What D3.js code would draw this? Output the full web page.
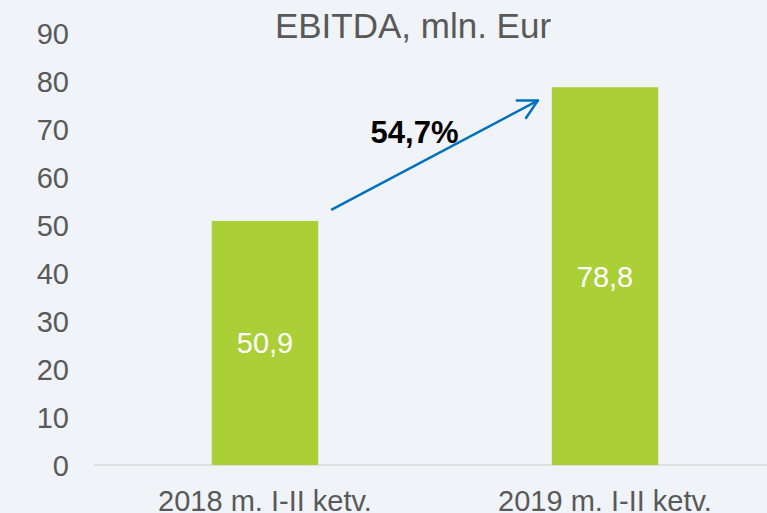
<!DOCTYPE html>
<html>
<head>
<meta charset="utf-8">
<script src="https://cdn.jsdelivr.net/npm/d3@7/dist/d3.min.js"></script>
<style>
  html, body { margin: 0; padding: 0; background: #f0f4f8; }
  svg { display: block; font-family: "Liberation Sans", Arial, sans-serif; }
</style>
</head>
<body>
<div id="chart"></div>
<script>
// data
const categories = ["2018 m. I-II ketv.", "2019 m. I-II ketv."];
const values = [50.9, 78.8];
const valueLabels = ["50,9", "78,8"];
const yTicks = [0, 10, 20, 30, 40, 50, 60, 70, 80, 90];
const growthLabel = "54,7%";
const title = "EBITDA, mln. Eur";

const width = 767, height = 513;
const barColor = "#abcf37";
const textColor = "#595959";

const svg = d3.select("#chart").append("svg")
    .attr("width", width)
    .attr("height", height);

svg.append("rect").attr("width", width).attr("height", height).attr("fill", "#f0f4f8");

// scales
const y = d3.scaleLinear().domain([0, 90]).range([465, 33.5]);
const x = d3.scaleBand().domain(categories).range([95, 775]).padding(0);
const barW = x.bandwidth() * 0.313;

// y axis
const yAxis = svg.append("g")
    .attr("transform", "translate(94,0)")
    .call(d3.axisLeft(y).tickValues(yTicks).tickSize(0).tickPadding(25));
yAxis.select(".domain").remove();
yAxis.selectAll("text")
    .attr("fill", textColor)
    .style("font-size", "29px")
    .style("font-family", "'Liberation Sans', Arial, sans-serif")
    .attr("dy", "0.35em");

// baseline
svg.append("line")
    .attr("x1", 94).attr("x2", width)
    .attr("y1", y(0)).attr("y2", y(0))
    .attr("stroke", "#d9d9d9").attr("stroke-width", 1.5);

// bars
svg.selectAll(".bar")
    .data(values)
    .enter().append("rect")
    .attr("class", "bar")
    .attr("x", (d, i) => x(categories[i]) + x.bandwidth() / 2 - barW / 2)
    .attr("width", barW)
    .attr("y", d => y(d))
    .attr("height", d => y(0) - y(d))
    .attr("fill", barColor);

// value labels
svg.selectAll(".val")
    .data(values)
    .enter().append("text")
    .attr("class", "val")
    .attr("x", (d, i) => x(categories[i]) + x.bandwidth() / 2)
    .attr("y", d => (y(d) + y(0)) / 2)
    .attr("dy", "0.36em")
    .attr("text-anchor", "middle")
    .attr("fill", "#ffffff")
    .style("font-size", "29px")
    .text((d, i) => valueLabels[i]);

// x axis labels
const xAxis = svg.append("g")
    .attr("transform", `translate(0,${y(0)})`)
    .call(d3.axisBottom(x).tickSize(0).tickPadding(0));
xAxis.select(".domain").remove();
xAxis.selectAll("text")
    .attr("fill", textColor)
    .attr("y", 46)
    .attr("dy", 0)
    .style("font-size", "29px")
    .style("font-family", "'Liberation Sans', Arial, sans-serif");

// title
svg.append("text")
    .attr("x", 413)
    .attr("y", 38)
    .attr("text-anchor", "middle")
    .attr("fill", textColor)
    .style("font-size", "35px")
    .text(title);

// growth arrow
const x0 = x(categories[0]) + x.bandwidth() / 2 + barW / 2 + 13;
const x1 = x(categories[1]) + x.bandwidth() / 2 - barW / 2 - 14;
const y0 = y(53.2), y1 = y(76);
svg.append("line")
    .attr("x1", x0).attr("y1", y0)
    .attr("x2", x1).attr("y2", y1)
    .attr("stroke", "#0070c0").attr("stroke-width", 2.5);
const ang = Math.atan2(y0 - y1, x0 - x1);
const armLen = 21, spread = 28 * Math.PI / 180;
[ang - spread, ang + spread].forEach(a => {
    svg.append("line")
        .attr("x1", x1).attr("y1", y1)
        .attr("x2", x1 + armLen * Math.cos(a))
        .attr("y2", y1 + armLen * Math.sin(a))
        .attr("stroke", "#0070c0").attr("stroke-width", 2.5)
        .attr("stroke-linecap", "round");
});

svg.append("text")
    .attr("x", (x0 + x1) / 2 - 20)
    .attr("y", y(67.2))
    .attr("text-anchor", "middle")
    .attr("fill", "#000000")
    .style("font-size", "31px")
    .style("font-weight", "bold")
    .text(growthLabel);
</script>
</body>
</html>
